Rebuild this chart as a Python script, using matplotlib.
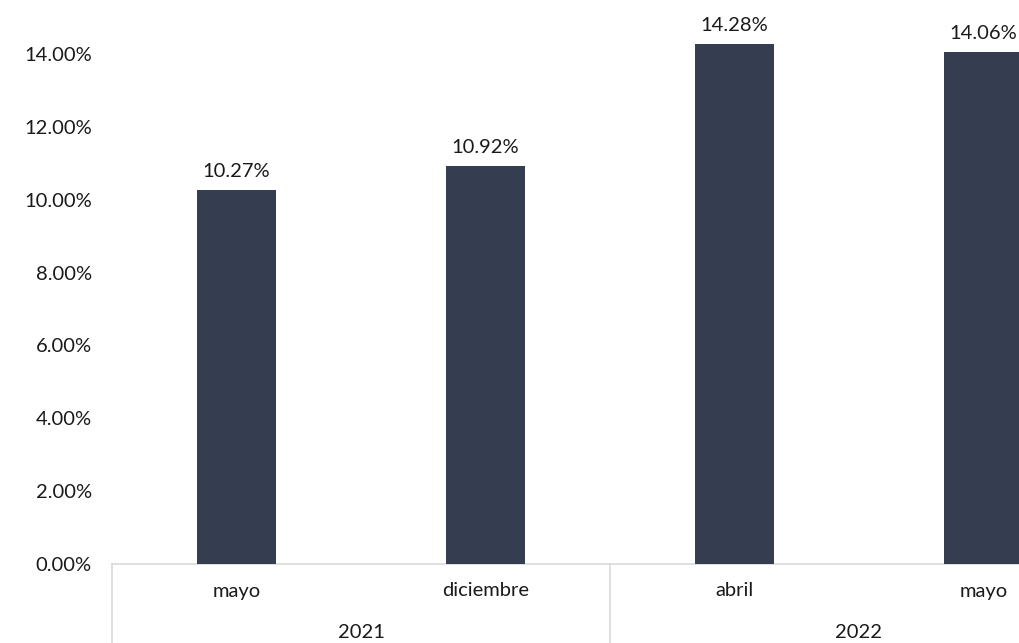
import matplotlib
matplotlib.use("Agg")
import matplotlib.pyplot as plt
from matplotlib.lines import Line2D

months = ["mayo", "diciembre", "abril", "mayo"]
years = ["2021", "2022"]
values = [10.27, 10.92, 14.28, 14.06]
value_labels = ["10.27%", "10.92%", "14.28%", "14.06%"]
yticks = [0, 2, 4, 6, 8, 10, 12, 14]

plt.rcParams['font.family'] = ['Lato', 'DejaVu Sans']
FS = 14.5
TC = "#1a1a1a"
W, H = 1020, 643
fig = plt.figure(figsize=(W/100, H/100), dpi=100)
left = 112 / W
bottom = 1 - 564 / H
width = 996 / W
height = 564 / H
ax = fig.add_axes([left, bottom, width, height])
x = list(range(len(values)))
ax.bar(x, values, width=0.315, color="#343e50", zorder=3)
ax.set_xlim(-0.5, 3.5)
ax.set_ylim(0, 564 / 36.43)
ax.set_yticks(yticks)
ax.set_yticklabels([f"{v:.2f}%" for v in yticks], fontsize=FS, color=TC)
ax.tick_params(axis='y', length=0, pad=14.5)
ax.set_xticks([])
for s in ["top", "right", "left"]:
    ax.spines[s].set_visible(False)
ax.spines["bottom"].set_color("#d9d9d9")
ax.spines["bottom"].set_linewidth(1.2)

for xi, v, lab in zip(x, values, value_labels):
    ax.annotate(lab, (xi, v), xytext=(0, 7), textcoords="offset points",
                ha="center", va="bottom", fontsize=FS, color=TC)

trans = ax.get_xaxis_transform()
for xi, m in zip(x, months):
    ax.text(xi, -27 / 564, m, transform=trans, ha="center", va="center",
            fontsize=FS, color=TC)
for gi, yr in enumerate(years):
    ax.text(gi * 2 + 0.5, -68 / 564, yr, transform=trans, ha="center", va="center",
            fontsize=FS, color=TC)
for bx in [-0.5, 1.5, 3.5]:
    ax.add_line(Line2D([bx, bx], [0, -80 / 564], transform=trans, color="#d9d9d9",
                       linewidth=1.2, clip_on=False))

fig.savefig("out.png", dpi=100)
